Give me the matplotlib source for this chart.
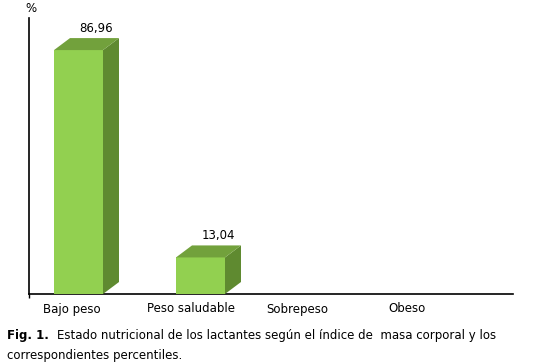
import matplotlib
matplotlib.use("Agg")
import matplotlib.pyplot as plt
from matplotlib.patches import Polygon

categories = ["Bajo peso", "Peso saludable", "Sobrepeso", "Obeso"]
values = [86.96, 13.04, 0, 0]
value_labels = ["86,96", "13,04", None, None]
label_x_px = [72, 191, 297, 407]  # label centres in pixels

W, H = 559, 364
fig = plt.figure(figsize=(W / 100, H / 100), dpi=100)
fig.patch.set_facecolor("white")

FS = 8.5

ax_l, ax_r, ax_b, ax_t = 29, 513, 294, 18
ax = fig.add_axes([ax_l / W, (H - ax_b) / H, (ax_r - ax_l) / W, (ax_b - ax_t) / H])

px_per_unit_x = 122.0
xmin = -25 / px_per_unit_x
xmax = xmin + (ax_r - ax_l) / px_per_unit_x
ymax = 98.4
ax.set_xlim(xmin, xmax)
ax.set_ylim(0, ymax)
px_per_unit_y = (ax_b - ax_t) / ymax

bw = 49 / px_per_unit_x
dx = 16 / px_per_unit_x
dy = 12 / px_per_unit_y

front_c = "#92d050"
side_c = "#5f8a30"
top_c = "#72a13c"

for i, v in enumerate(values):
    if v <= 0:
        continue
    x0 = i
    x1 = i + bw
    ax.add_patch(Polygon([(x0, 0), (x1, 0), (x1, v), (x0, v)], closed=True,
                         facecolor=front_c, edgecolor="none", zorder=3))
    ax.add_patch(Polygon([(x1, 0), (x1 + dx, dy), (x1 + dx, v + dy), (x1, v)], closed=True,
                         facecolor=side_c, edgecolor="none", zorder=3))
    ax.add_patch(Polygon([(x0, v), (x1, v), (x1 + dx, v + dy), (x0 + dx, v + dy)], closed=True,
                         facecolor=top_c, edgecolor="none", zorder=3))
    if value_labels[i]:
        ax.text(x0 + bw / 2 + dx + 2 / px_per_unit_x, v + dy + 3 / px_per_unit_y, value_labels[i],
                ha="center", va="bottom", fontsize=FS, family="DejaVu Sans", color="black")

for s in ["top", "right"]:
    ax.spines[s].set_visible(False)
ax.spines["left"].set_linewidth(1.2)
ax.spines["bottom"].set_linewidth(1.2)
ax.set_xticks([xmin])
ax.set_xticklabels([""])
ax.tick_params(axis="x", length=3, width=1.0, direction="out")
ax.set_yticks([])

for lab, xp in zip(categories, label_x_px):
    fig.text(xp / W, 1 - 309 / H, lab, ha="center", va="center", fontsize=FS,
             family="DejaVu Sans", color="black")

fig.text(31 / W, 1 - 9 / H, "%", ha="center", va="center", fontsize=FS,
         family="DejaVu Sans", color="black")

fig.text(7 / W, 1 - 336 / H, "Fig. 1.", ha="left", va="center", fontsize=FS,
         family="DejaVu Sans", weight="bold", color="black")
fig.text(57 / W, 1 - 336 / H,
         "Estado nutricional de los lactantes según el índice de  masa corporal y los",
         ha="left", va="center", fontsize=FS, family="DejaVu Sans", color="black")
fig.text(7 / W, 1 - 355 / H, "correspondientes percentiles.",
         ha="left", va="center", fontsize=FS, family="DejaVu Sans", color="black")

fig.savefig("out.png", dpi=100, facecolor="white")
